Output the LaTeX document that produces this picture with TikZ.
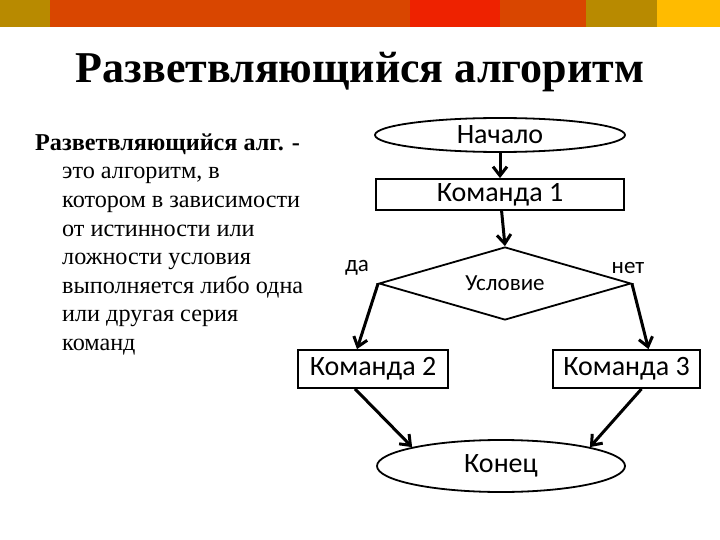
\documentclass[tikz,border=0pt]{standalone}
\usepackage{fontspec}
\setmainfont{Liberation Serif}
\newfontfamily\flowfont{Carlito}
\usetikzlibrary{shapes.geometric,arrows.meta}
\definecolor{barGold}{HTML}{B88A00}
\definecolor{barOrange}{HTML}{D94600}
\definecolor{barRed}{HTML}{EE2200}
\definecolor{barYellow}{HTML}{FFBB00}
\tikzset{
  fbox/.style={draw, line width=1.8pt, rectangle, inner sep=0pt, font=\flowfont\fontsize{28}{32}\selectfont},
  fell/.style={draw, line width=1.8pt, ellipse, inner sep=0pt, font=\flowfont\fontsize{28}{32}\selectfont},
  fdia/.style={draw, line width=1.8pt, diamond, inner sep=0pt, font=\flowfont\fontsize{23}{27}\selectfont},
  flab/.style={font=\flowfont\fontsize{23}{27}\selectfont},
  farr/.style={line width=3pt, -{Straight Barb[length=9pt,width=14pt,line width=3pt]}},
}
\begin{document}
\begin{tikzpicture}[x=1pt,y=-1pt]
\useasboundingbox (0,0) rectangle (720,540);
% top bar
\fill[barGold] (0,0) rectangle (50,27);
\fill[barOrange] (50,0) rectangle (410,27);
\fill[barRed] (410,0) rectangle (500,27);
\fill[barOrange] (500,0) rectangle (586,27);
\fill[barGold] (586,0) rectangle (657,27);
\fill[barYellow] (657,0) rectangle (720,27);
% title
\node[anchor=base] (title) at (360,83) {\fontsize{44}{48}\selectfont\bfseries Разветвляющийся алгоритм};
% left text
\node[anchor=north west, inner sep=0pt, align=left, font=\fontsize{24.2}{28.6}\selectfont] (desc) at (35,130)
{\rule{0pt}{20pt}\textbf{Разветвляющийся алг. -}\\
\hspace*{27pt}это алгоритм, в\\
\hspace*{27pt}котором в зависимости\\
\hspace*{27pt}от истинности или\\
\hspace*{27pt}ложности условия\\
\hspace*{27pt}выполняется либо одна\\
\hspace*{27pt}или другая серия\\
\hspace*{27pt}команд};
% flowchart
\node[fell, minimum width=250pt, minimum height=34pt] (start) at (500,135) {Начало};
\node[fbox, minimum width=248pt, minimum height=31pt] (c1) at (500,194.5) {Команда 1};
\node[fdia, minimum width=252pt, minimum height=73pt, aspect=3.45] (cond) at (505,283.5) {Условие};
\node[fbox, minimum width=150pt, minimum height=38pt] (c2) at (373,369) {Команда 2};
\node[fbox, minimum width=147pt, minimum height=38pt] (c3) at (626.5,369) {Команда 3};
\node[fell, minimum width=248pt, minimum height=52pt] (end) at (501,466) {Конец};
\node[flab] (yes) at (357,268) {да};
\node[flab] (no) at (628,268) {нет};
\draw[farr] (start) -- (c1);
\draw[farr] (c1) -- (cond.north);
\draw[farr] (cond.west) -- ([xshift=-16pt]c2.north);
\draw[farr] (cond.east) -- ([xshift=22pt]c3.north);
\draw[farr] ([xshift=-18pt]c2.south) -- (end.168);
\draw[farr] ([xshift=15pt]c3.south) -- (end.12);
\end{tikzpicture}
\end{document}
